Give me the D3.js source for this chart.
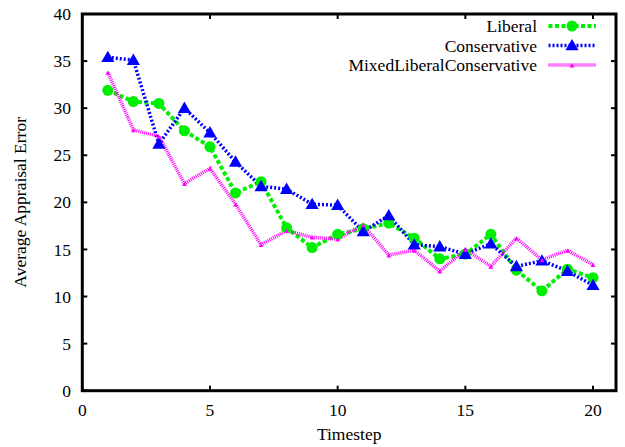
<!DOCTYPE html>
<html><head><meta charset="utf-8">
<script src="https://cdn.jsdelivr.net/npm/d3@7"></script>
<style>body{margin:0;background:#fff}svg{display:block}text{font-family:"Liberation Serif","Times New Roman",serif;}</style>
</head><body><svg id="c" width="625" height="447"></svg>
<script>
const timesteps = [1,2,3,4,5,6,7,8,9,10,11,12,13,14,15,16,17,18,19,20];
const liberal = [31.9,30.7,30.5,27.6,25.9,21.0,22.2,17.3,15.2,16.6,17.2,17.8,16.2,14.0,14.5,16.6,12.8,10.6,12.9,12.0];
const conservative = [35.4,35.1,26.2,30.0,27.4,24.3,21.7,21.4,19.8,19.7,16.9,18.6,15.5,15.3,14.5,15.6,13.2,13.8,12.7,11.2];
const mixed = [33.8,27.7,27.0,22.0,23.6,19.8,15.5,17.0,16.3,16.1,17.6,14.4,14.9,12.7,15.0,13.2,16.2,13.9,14.9,13.4];
const seriesNames = ["Liberal","Conservative","MixedLiberalConservative"];
const xTicks = [0,5,10,15,20];
const yTicks = [0,5,10,15,20,25,30,35,40];

const svg = d3.select("#c");
const L = 82.3, R = 616, T = 14, B = 390.7;
const FS = 17.5;
const x = d3.scaleLinear().domain([0, 20.9]).range([L, R]);
const y = d3.scaleLinear().domain([0, 40]).range([B, T]);

const styles = [
  {data: liberal, color: "#00ee00", dash: "4,2.5", width: 4, marker: "circle", size: 95},
  {data: conservative, color: "#0000ff", dash: "2,2", width: 3.5, marker: "triangle", size: 75},
  {data: mixed, color: "#ff00ff", dash: "1,1", width: 3.5, marker: "triangle", size: 10}
];

const tl = 5;
const g = svg.append("g");
yTicks.forEach(v => {
  g.append("line").attr("x1", L).attr("x2", L + tl).attr("y1", y(v)).attr("y2", y(v)).attr("stroke", "#000").attr("stroke-width", 2);
  g.append("line").attr("x1", R).attr("x2", R - tl).attr("y1", y(v)).attr("y2", y(v)).attr("stroke", "#000").attr("stroke-width", 2);
  g.append("text").attr("x", 71).attr("y", y(v)).attr("dy", "0.35em").attr("text-anchor", "end").attr("font-size", FS).text(v);
});
xTicks.forEach(v => {
  g.append("line").attr("x1", x(v)).attr("x2", x(v)).attr("y1", B).attr("y2", B - tl).attr("stroke", "#000").attr("stroke-width", 2);
  g.append("line").attr("x1", x(v)).attr("x2", x(v)).attr("y1", T).attr("y2", T + tl).attr("stroke", "#000").attr("stroke-width", 2);
  g.append("text").attr("x", x(v)).attr("y", 410).attr("dy", "0.35em").attr("text-anchor", "middle").attr("font-size", FS).text(v);
});

const line = d3.line().x((d, i) => x(timesteps[i])).y(d => y(d));
styles.forEach((s, k) => {
  svg.append("path").datum(s.data).attr("d", line).attr("fill", "none")
    .attr("stroke", s.color).attr("stroke-width", s.width).attr("stroke-dasharray", s.dash);
});
styles.forEach((s, k) => {
  const sym = d3.symbol().type(s.marker === "circle" ? d3.symbolCircle : d3.symbolTriangle).size(s.size);
  svg.append("g").selectAll("path").data(s.data).join("path")
    .attr("transform", (d, i) => `translate(${x(timesteps[i])},${y(d) + (s.marker === "triangle" ? 1 : 0)})`)
    .attr("d", sym).attr("fill", s.color);
});

svg.append("rect").attr("x", L).attr("y", T).attr("width", R - L).attr("height", B - T)
  .attr("fill", "none").attr("stroke", "#000").attr("stroke-width", 3);

const ly = [26, 45.5, 65];
styles.forEach((s, k) => {
  svg.append("text").attr("x", 537).attr("y", ly[k]).attr("dy", "0.35em").attr("text-anchor", "end").attr("font-size", FS).text(seriesNames[k]);
  svg.append("line").attr("x1", 548.5).attr("x2", 596).attr("y1", ly[k]).attr("y2", ly[k])
    .attr("stroke", s.color).attr("stroke-width", s.width).attr("stroke-dasharray", s.dash);
  const sym = d3.symbol().type(s.marker === "circle" ? d3.symbolCircle : d3.symbolTriangle).size(s.size);
  svg.append("path").attr("d", sym).attr("fill", s.color).attr("transform", `translate(572,${ly[k] + (s.marker === "triangle" ? 1 : 0)})`);
});

svg.append("text").attr("x", (L + R) / 2).attr("y", 434).attr("dy", "0.35em").attr("text-anchor", "middle").attr("font-size", FS).text("Timestep");
svg.append("text").attr("transform", `translate(20,${(T + B) / 2}) rotate(-90)`).attr("dy", "0.35em").attr("text-anchor", "middle").attr("font-size", FS).text("Average Appraisal Error");
</script></body></html>
